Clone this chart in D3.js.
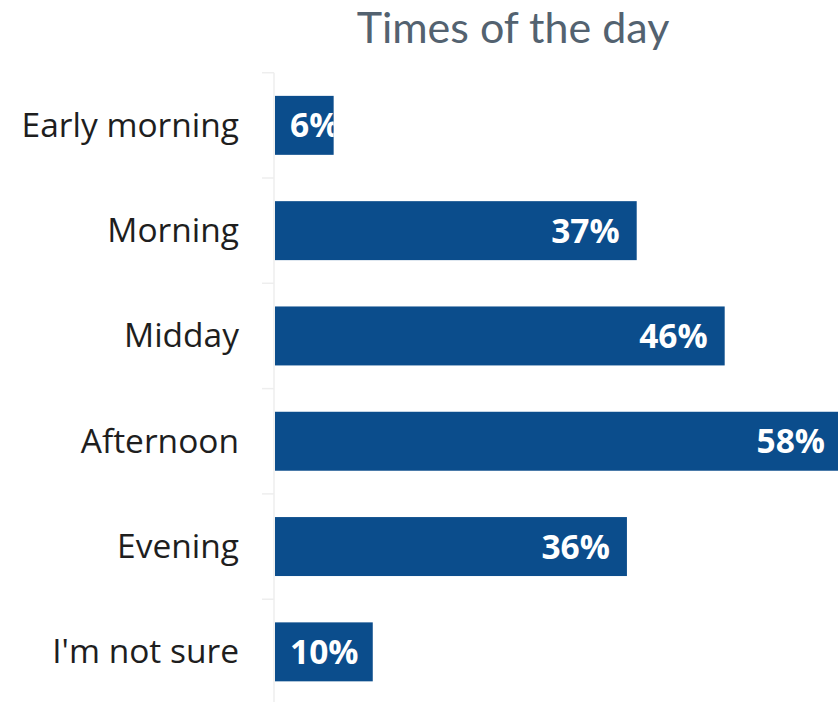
<!DOCTYPE html>
<html>
<head>
<meta charset="utf-8">
<script src="https://cdn.jsdelivr.net/npm/d3@7"></script>
<style>
  html, body { margin: 0; padding: 0; background: #fff; }
  svg { display: block; }
</style>
</head>
<body>
<svg id="chart" width="838" height="702"></svg>
<script>
// Share of responses per time of day (%)
const categories = ["Early morning", "Morning", "Midday", "Afternoon", "Evening", "I'm not sure"];
const values = [6, 37, 46, 58, 36, 10];
const title = "Times of the day";

const labelFont = '"Open Sans", "Noto Sans", sans-serif';
const titleFont = 'Lato, "Open Sans", sans-serif';

const svg = d3.select("#chart");

const plotLeft = 275, plotRight = 842;
const plotTop = 72.7, plotBottom = 704.5;

const x = d3.scaleLinear().domain([0, 58]).range([plotLeft, plotRight]);
const y = d3.scaleBand().domain(categories).range([plotTop, plotBottom])
  .paddingInner(0.44).paddingOuter(0.22);

// Title
svg.append("text")
  .attr("x", 513).attr("y", 43)
  .attr("text-anchor", "middle")
  .style("font-family", titleFont)
  .attr("font-size", 43)
  .attr("fill", "#536270")
  .text(title);

// Axis line and band separators
const step = y.step();
const boundaries = d3.range(categories.length + 1).map(i => plotTop + i * step);
svg.append("line")
  .attr("x1", plotLeft - 1).attr("x2", plotLeft - 1)
  .attr("y1", plotTop).attr("y2", plotBottom)
  .attr("stroke", "#eeeeee").attr("stroke-width", 1.5);
svg.selectAll("line.sep").data(boundaries).join("line")
  .attr("class", "sep")
  .attr("x1", plotLeft - 13).attr("x2", plotLeft - 1)
  .attr("y1", d => d).attr("y2", d => d)
  .attr("stroke", "#eeeeee").attr("stroke-width", 1.5);

// Category labels
const yAxis = svg.append("g")
  .attr("transform", `translate(${plotLeft - 1},0)`)
  .call(d3.axisLeft(y).tickSize(0).tickPadding(35));
yAxis.select(".domain").remove();
yAxis.selectAll("text")
  .attr("font-size", 33.5)
  .attr("dy", "0.34em")
  .attr("fill", "#1e1e1e")
  .style("font-family", labelFont);

// Bars
const data = categories.map((c, i) => ({ c, v: values[i] }));
const defs = svg.append("defs");
data.forEach((d, i) => {
  defs.append("clipPath").attr("id", "clip" + i)
    .append("rect")
    .attr("x", x(0)).attr("y", y(d.c))
    .attr("width", x(d.v) - x(0)).attr("height", y.bandwidth());
});

svg.selectAll("rect.bar").data(data).join("rect")
  .attr("class", "bar")
  .attr("x", x(0))
  .attr("y", d => y(d.c))
  .attr("width", d => x(d.v) - x(0))
  .attr("height", y.bandwidth())
  .attr("fill", "#0b4d8c");

// Value labels inside bars
const labels = svg.selectAll("text.val").data(data).join("text")
  .attr("class", "val")
  .attr("clip-path", (d, i) => `url(#clip${i})`)
  .attr("y", d => y(d.c) + y.bandwidth() / 2)
  .attr("dy", "0.36em")
  .style("font-family", labelFont)
  .attr("font-size", 33.5)
  .attr("font-weight", "bold")
  .attr("fill", "#ffffff")
  .text(d => d.v + "%");

labels.each(function (d) {
  const w = this.getComputedTextLength();
  const end = x(d.v) - 17;
  const start = Math.max(x(0) + 15, end - w);
  d3.select(this).attr("x", start);
});
</script>
</body>
</html>
